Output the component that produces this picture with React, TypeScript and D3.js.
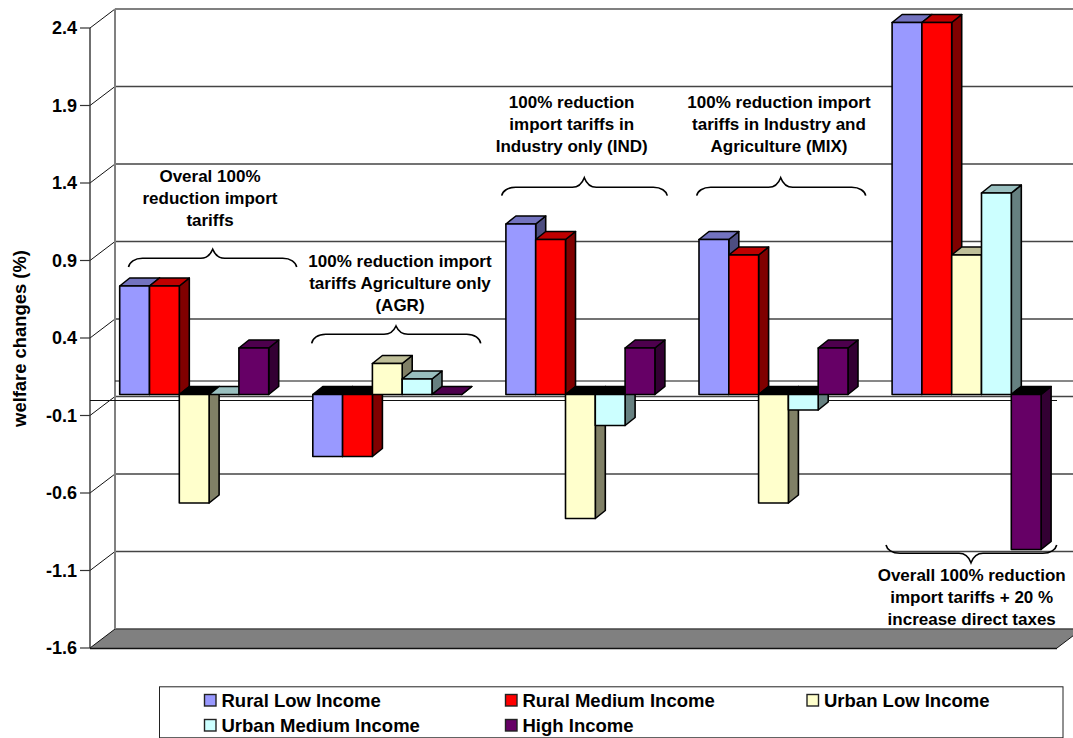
import React from "react";
import * as d3 from "d3";

const scenarios = ["Overal", "AGR", "IND", "MIX", "Overall+Tax"];
const seriesNames = ["Rural Low Income", "Rural Medium Income", "Urban Low Income", "Urban Medium Income", "High Income"];
const ruralLow = [0.7, -0.4, 1.1, 1.0, 2.4];
const ruralMedium = [0.7, -0.4, 1.0, 0.9, 2.4];
const urbanLow = [-0.7, 0.2, -0.8, -0.7, 0.9];
const urbanMedium = [0, 0.1, -0.2, -0.1, 1.3];
const highIncome = [0.3, 0, 0.3, 0.3, -1.0];
const seriesValues = [ruralLow, ruralMedium, urbanLow, urbanMedium, highIncome];
const tickValues = [2.4, 1.9, 1.4, 0.9, 0.4, -0.1, -0.6, -1.1, -1.6];
const faceColors = ["#9999FF", "#FF0000", "#FFFFCC", "#CCFFFF", "#660066"];

const annotationLines = [
  ["Overal 100%", "reduction import", "tariffs"],
  ["100% reduction import", "tariffs Agriculture only", "(AGR)"],
  ["100% reduction", "import tariffs in", "Industry only (IND)"],
  ["100% reduction import", "tariffs in Industry and", "Agriculture (MIX)"],
  ["Overall 100% reduction", "import tariffs + 20 %", "increase direct taxes"],
];

// layout of annotations: text centre + first baseline, brace left/mid/right, end y, flat y, peak y
const annotationLayout = [
  { cx: 210, by: 182, l: 128.5, m: 212.7, r: 296.7, e: 267, f: 258.3, p: 249.3 },
  { cx: 400, by: 266.5, l: 311.7, m: 396, r: 480.7, e: 343.3, f: 334.3, p: 326 },
  { cx: 571.7, by: 108, l: 501.7, m: 584.3, r: 667.3, e: 195.7, f: 187.3, p: 177.7 },
  { cx: 779, by: 108, l: 696.7, m: 780.7, r: 865.7, e: 195.7, f: 187.3, p: 177.7 },
  { cx: 971.7, by: 580.7, l: 886, m: 971, r: 1056.7, e: 545, f: 553.3, p: 562.7 },
];

const W = 1073;
const H = 738;
const FONT = "'Liberation Sans', Arial, sans-serif";
const frontX = 90;
const endX = 1057;
const wallDx = 25;
const wallDy = -19;
const barDx = 10;
const barDy = -8;
const barShift = -5.5;

const y = d3.scaleLinear().domain([-1.6, 2.4]).range([648, 28]);
const x0 = d3.scaleBand<string>().domain(scenarios).range([97.65, 1063.15]).paddingInner(0.2284).paddingOuter(0.1142);
const x1 = d3.scaleBand<string>().domain(seriesNames).range([0, x0.bandwidth()]);

const shade = (c: string, k: number) => {
  const r = d3.rgb(c);
  return d3.rgb(r.r * k, r.g * k, r.b * k).formatHex();
};

function bracePath(a: { l: number; m: number; r: number; e: number; f: number; p: number }) {
  const { l, m, r, e, f, p } = a;
  const d = f - e;
  return `M${l},${e} C${l + 1},${e + d * 0.55} ${l + 6},${f} ${l + 14},${f} L${m - 12},${f} C${m - 6},${f} ${m - 2},${f + (p - f) * 0.45} ${m},${p} C${m + 2},${f + (p - f) * 0.45} ${m + 6},${f} ${m + 12},${f} L${r - 14},${f} C${r - 6},${f} ${r - 1},${e + d * 0.55} ${r},${e}`;
}

function Bar({ sx, sName, v, color }: { sx: number; sName: string; v: number; color: string }) {
  const w = x1.bandwidth();
  const xl = sx + (x1(sName) as number);
  const xr = xl + w;
  const yb = y(0) + barShift;
  const yv = y(v) + barShift;
  const yt = Math.min(yb, yv);
  const ybot = Math.max(yb, yv);
  const topFill = v < 0 ? "#000000" : shade(color, 0.75);
  const stroke = { stroke: "#000", strokeWidth: 1.6, strokeLinejoin: "round" as const };
  return (
    <g>
      {ybot > yt || v === 0 ? (
        <path
          d={`M${xr},${yt} L${xr + barDx},${yt + barDy} L${xr + barDx},${ybot + barDy} L${xr},${ybot} Z`}
          fill={shade(color, 0.5)}
          {...stroke}
        />
      ) : null}
      <path
        d={`M${xl},${yt} L${xl + barDx},${yt + barDy} L${xr + barDx},${yt + barDy} L${xr},${yt} Z`}
        fill={topFill}
        {...stroke}
      />
      {v !== 0 ? <rect x={xl} y={yt} width={w} height={ybot - yt} fill={color} {...stroke} /> : null}
    </g>
  );
}

export default function App() {
  const legendRows = d3.scalePoint<number>().domain([0, 1]).range([694.5, 719.5]);
  return (
    <svg
      width={W}
      height={H}
      viewBox={`0 0 ${W} ${H}`}
      style={{ position: "fixed", left: 0, top: 0, background: "#fff" }}
      fontFamily={FONT}
    >
      {/* floor */}
      <path
        d={`M${frontX},${y(-1.6)} L${frontX + wallDx},${y(-1.6) + wallDy} L${endX + wallDx},${y(-1.6) + wallDy} L${endX},${y(-1.6)} Z`}
        fill="#808080"
      />
      {/* walls, grid */}
      {tickValues.map((t) => (
        <g key={t}>
          <line x1={frontX + wallDx} x2={W} y1={y(t) + wallDy} y2={y(t) + wallDy} stroke={t === 2.4 ? "#808080" : "#444"} strokeWidth={t === 2.4 ? 1.8 : 1.3} />
          <line x1={frontX} x2={frontX + wallDx} y1={y(t)} y2={y(t) + wallDy} stroke="#111" strokeWidth={1} />
          <line x1={frontX - 10} x2={frontX} y1={y(t)} y2={y(t)} stroke="#333" strokeWidth={1.2} />
          <text x={77} y={y(t) + 6.3} textAnchor="end" fontSize={18} fontWeight={700} fill="#000">
            {t.toFixed(1)}
          </text>
        </g>
      ))}
      <line x1={frontX + wallDx} x2={frontX + wallDx} y1={y(2.4) + wallDy} y2={y(-1.6) + wallDy} stroke="#808080" strokeWidth={2} />
      <line x1={frontX} x2={frontX} y1={y(2.4)} y2={y(-1.6)} stroke="#333" strokeWidth={1.4} />
      {/* zero lines */}
      <line x1={frontX + wallDx} x2={W} y1={y(0) + wallDy} y2={y(0) + wallDy} stroke="#111" strokeWidth={1} />
      <line x1={frontX} x2={endX} y1={y(0) + 0.5} y2={y(0) + 0.5} stroke="#111" strokeWidth={1} />
      <line x1={frontX} x2={endX} y1={y(-1.6) + 0.5} y2={y(-1.6) + 0.5} stroke="#111" strokeWidth={1.4} />
      <path d={`M${endX},${y(-1.6)} L${endX + wallDx},${y(-1.6) + wallDy}`} stroke="#111" fill="none" />

      {/* bars */}
      {scenarios.map((s, gi) => (
        <g key={s}>
          {seriesNames.map((n, si) => (
            <Bar key={n} sx={x0(s) as number} sName={n} v={seriesValues[si][gi]} color={faceColors[si]} />
          ))}
        </g>
      ))}

      {/* annotations */}
      {annotationLines.map((lines, i) => {
        const a = annotationLayout[i];
        return (
          <g key={i}>
            <path d={bracePath(a)} fill="none" stroke="#000" strokeWidth={1.6} />
            {lines.map((ln, j) => (
              <text key={j} x={a.cx} y={a.by + j * 22} textAnchor="middle" fontSize={17} fontWeight={700} fill="#000">
                {ln}
              </text>
            ))}
          </g>
        );
      })}

      {/* axis title */}
      <text
        transform={`translate(25.5,338.5) rotate(-90)`}
        textAnchor="middle"
        fontSize={18.4}
        fontWeight={700}
        fill="#000"
      >
        welfare changes (%)
      </text>

      {/* legend */}
      <rect x={159.5} y={686.8} width={903.5} height={51} fill="#fff" stroke="#222" strokeWidth={1} />
      {seriesNames.map((n, i) => {
        const col = i < 3 ? i : i - 3;
        const row = i < 3 ? 0 : 1;
        const cols = [204.5, 505.5, 807];
        const lx = cols[col];
        const ly = legendRows(row) as number;
        return (
          <g key={n}>
            <rect x={lx} y={ly} width={11.5} height={11.5} fill={faceColors[i]} stroke="#222" strokeWidth={1.4} />
            <text x={lx + 17} y={ly + 12.2} fontSize={18.5} fontWeight={700} fill="#000">
              {n}
            </text>
          </g>
        );
      })}
    </svg>
  );
}
